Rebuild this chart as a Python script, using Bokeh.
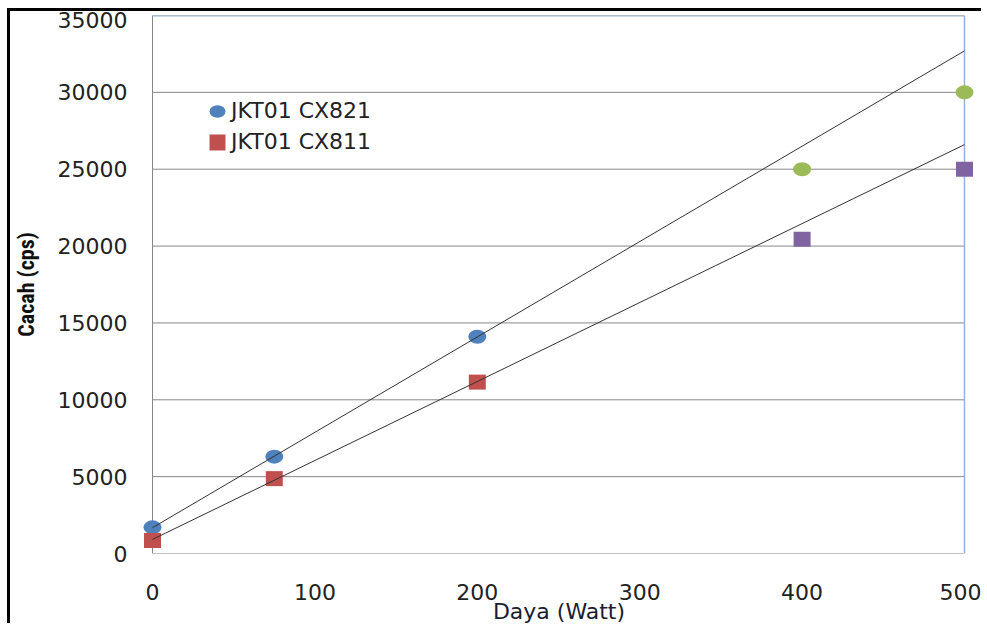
import numpy as np
from bokeh.plotting import figure
from bokeh.models import Range1d, Legend, LegendItem, FixedTicker
from bokeh.embed import file_html
from bokeh.resources import INLINE

# ---- data ----
POWER = [0, 75, 200]                 # Daya (Watt)
CX821 = [1700, 6300, 14100]          # JKT01 CX821 counts (cps)
CX811 = [850, 4870, 11150]           # JKT01 CX811 counts (cps)
POWER_HIGH = [400, 500]
CX821_HIGH = [25000, 30000]
CX811_HIGH = [20450, 25000]
SERIES_NAMES = ["JKT01 CX821", "JKT01 CX811"]
X_TICKS = [0, 100, 200, 300, 400, 500]
Y_TICKS = [0, 5000, 10000, 15000, 20000, 25000, 30000, 35000]

XMIN, XMAX = 0, 500
YMIN, YMAX = 0, 35000
PAD_L, PAD_R = 7.39, 12.32

FONT = "DejaVu Sans"
TICK_COLOR = "#222222"
GRID_COLOR = "#878787"
FRAME_BLUE = "#95B3D7"

p = figure(width=974, height=615,
           x_range=Range1d(XMIN - PAD_L, XMAX + PAD_R),
           y_range=Range1d(YMIN, YMAX),
           output_backend="svg", toolbar_location=None,
           min_border_left=130, min_border_right=0,
           min_border_top=4, min_border_bottom=71)
p.styles = {"margin-left": "7px", "margin-top": "8px",
            "border-left": "3px solid #000", "border-top": "3px solid #000"}
p.outline_line_color = None
p.xgrid.visible = False
p.ygrid.visible = False
p.background_fill_color = "white"
p.border_fill_color = "white"

# horizontal gridlines, spanning only the data extent
n = len(Y_TICKS)
p.segment(x0=[XMIN] * n, y0=Y_TICKS, x1=[XMAX] * n, y1=Y_TICKS,
          line_color=GRID_COLOR, line_width=1)
# left spine (gray), right & top (light blue)
p.segment(x0=[XMIN], y0=[YMIN], x1=[XMIN], y1=[YMAX], line_color=GRID_COLOR, line_width=1)
p.segment(x0=[XMAX], y0=[YMIN], x1=[XMAX], y1=[YMAX], line_color=FRAME_BLUE, line_width=1.5)
p.segment(x0=[XMIN], y0=[YMAX], x1=[XMAX], y1=[YMAX], line_color=FRAME_BLUE, line_width=2)

# markers
r821 = p.ellipse(x=POWER, y=CX821, width=18, height=14,
                 width_units="screen", height_units="screen",
                 fill_color="#4F81BD", line_color=None)
r811 = p.rect(x=POWER, y=CX811, width=17, height=15,
              width_units="screen", height_units="screen",
              fill_color="#C0504D", line_color=None)
p.ellipse(x=POWER_HIGH, y=CX821_HIGH, width=18, height=14,
          width_units="screen", height_units="screen",
          fill_color="#9BBB59", line_color=None)
p.rect(x=POWER_HIGH, y=CX811_HIGH, width=17, height=15,
       width_units="screen", height_units="screen",
       fill_color="#8064A2", line_color=None)

# linear trend lines fitted to the first three points of each series
xs = np.array([XMIN, XMAX], dtype=float)
for ys_data in (CX821, CX811):
    coef = np.polyfit(POWER, ys_data, 1)
    p.line(xs, np.polyval(coef, xs), line_color="#333333", line_width=1)

# axes
for ax in (p.xaxis[0], p.yaxis[0]):
    ax.axis_line_color = None
    ax.major_tick_line_color = None
    ax.minor_tick_line_color = None
    ax.major_label_text_font = FONT
    ax.major_label_text_font_size = "22px"
    ax.major_label_text_color = TICK_COLOR

p.xaxis.ticker = FixedTicker(ticks=X_TICKS)
p.yaxis.ticker = FixedTicker(ticks=Y_TICKS)
p.xaxis.major_label_standoff = 24
p.yaxis.major_label_standoff = 7

p.xaxis.axis_label = "Daya  (Watt)"
p.xaxis.axis_label_text_font = FONT
p.xaxis.axis_label_text_font_style = "normal"
p.xaxis.axis_label_text_font_size = "22px"
p.xaxis.axis_label_text_color = "#1c1c30"
p.xaxis.axis_label_standoff = -4

p.yaxis.axis_label = "Cacah (cps)"
p.yaxis.axis_label_text_font = "Liberation Sans Narrow, Roboto Condensed, Liberation Sans"
p.yaxis.axis_label_text_font_style = "bold"
p.yaxis.axis_label_text_font_size = "22px"
p.yaxis.axis_label_text_color = "#111111"
p.yaxis.axis_label_standoff = 16

legend = Legend(items=[LegendItem(label=SERIES_NAMES[0], renderers=[r821]),
                       LegendItem(label=SERIES_NAMES[1], renderers=[r811])],
                location=(67, 399), padding=0, margin=0, spacing=6,
                glyph_width=20, glyph_height=20, label_height=24,
                label_standoff=4, border_line_color=None,
                background_fill_alpha=0,
                label_text_font=FONT, label_text_font_size="22px",
                label_text_color=TICK_COLOR)
p.add_layout(legend, "center")

open("out.html", "w").write(file_html(p, INLINE))
